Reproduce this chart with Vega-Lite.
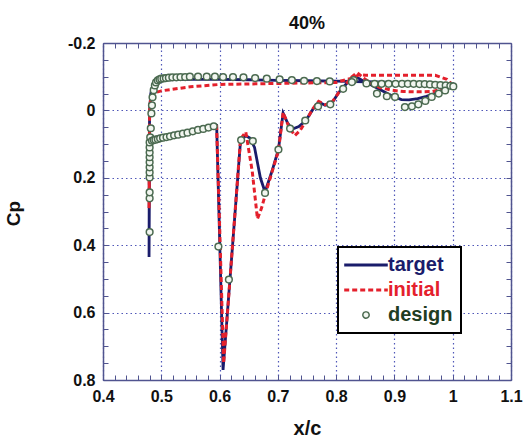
{
  "$schema": "https://vega.github.io/schema/vega-lite/v6.json",
  "width": 408,
  "height": 337,
  "autosize": "none",
  "padding": {"left": 103, "top": 43, "right": 16, "bottom": 65},
  "background": "white",
  "title": {"text": "40%", "font": "Liberation Sans", "fontSize": 18, "fontWeight": "bold", "color": "#111111", "anchor": "middle", "frame": "group", "offset": 15, "dy": 27, "baseline": "alphabetic"},
  "config": {"view": {"stroke": null}},
  "datasets": {
    "target": [
      {"i": 1, "x": 1.000, "cp": -0.073}, {"i": 2, "x": 0.985, "cp": -0.062}, {"i": 3, "x": 0.970, "cp": -0.051},
      {"i": 4, "x": 0.955, "cp": -0.042}, {"i": 5, "x": 0.940, "cp": -0.035}, {"i": 6, "x": 0.925, "cp": -0.031},
      {"i": 7, "x": 0.912, "cp": -0.032}, {"i": 8, "x": 0.900, "cp": -0.040}, {"i": 9, "x": 0.888, "cp": -0.050},
      {"i": 10, "x": 0.875, "cp": -0.062}, {"i": 11, "x": 0.862, "cp": -0.074}, {"i": 12, "x": 0.850, "cp": -0.084},
      {"i": 13, "x": 0.840, "cp": -0.094}, {"i": 14, "x": 0.832, "cp": -0.100}, {"i": 15, "x": 0.822, "cp": -0.088},
      {"i": 16, "x": 0.812, "cp": -0.068}, {"i": 17, "x": 0.804, "cp": -0.052}, {"i": 18, "x": 0.792, "cp": -0.020},
      {"i": 19, "x": 0.781, "cp": -0.015}, {"i": 20, "x": 0.770, "cp": -0.025}, {"i": 21, "x": 0.760, "cp": -0.003},
      {"i": 22, "x": 0.748, "cp": 0.030}, {"i": 23, "x": 0.736, "cp": 0.048}, {"i": 24, "x": 0.724, "cp": 0.056},
      {"i": 25, "x": 0.716, "cp": 0.035}, {"i": 26, "x": 0.709, "cp": 0.008}, {"i": 27, "x": 0.701, "cp": 0.116},
      {"i": 28, "x": 0.690, "cp": 0.180}, {"i": 29, "x": 0.678, "cp": 0.242}, {"i": 30, "x": 0.670, "cp": 0.200},
      {"i": 31, "x": 0.660, "cp": 0.110}, {"i": 32, "x": 0.652, "cp": 0.082}, {"i": 33, "x": 0.645, "cp": 0.075},
      {"i": 34, "x": 0.636, "cp": 0.090}, {"i": 35, "x": 0.606, "cp": 0.770}, {"i": 36, "x": 0.595, "cp": 0.045},
      {"i": 37, "x": 0.580, "cp": 0.050}, {"i": 38, "x": 0.560, "cp": 0.057}, {"i": 39, "x": 0.540, "cp": 0.064},
      {"i": 40, "x": 0.520, "cp": 0.071}, {"i": 41, "x": 0.500, "cp": 0.079}, {"i": 42, "x": 0.490, "cp": 0.084},
      {"i": 43, "x": 0.484, "cp": 0.090}, {"i": 44, "x": 0.480, "cp": 0.110}, {"i": 45, "x": 0.479, "cp": 0.435},
      {"i": 46, "x": 0.4795, "cp": 0.100}, {"i": 47, "x": 0.480, "cp": 0.000}, {"i": 48, "x": 0.482, "cp": -0.050},
      {"i": 49, "x": 0.486, "cp": -0.078}, {"i": 50, "x": 0.492, "cp": -0.088}, {"i": 51, "x": 0.505, "cp": -0.091},
      {"i": 52, "x": 0.550, "cp": -0.092}, {"i": 53, "x": 0.600, "cp": -0.092}, {"i": 54, "x": 0.650, "cp": -0.091},
      {"i": 55, "x": 0.700, "cp": -0.089}, {"i": 56, "x": 0.750, "cp": -0.088}, {"i": 57, "x": 0.800, "cp": -0.087},
      {"i": 58, "x": 0.850, "cp": -0.085}, {"i": 59, "x": 0.900, "cp": -0.083}, {"i": 60, "x": 0.950, "cp": -0.080},
      {"i": 61, "x": 0.980, "cp": -0.077}, {"i": 62, "x": 1.000, "cp": -0.073}
    ],
    "initial": [
      {"i": 1, "x": 1.000, "cp": -0.074}, {"i": 2, "x": 0.985, "cp": -0.064}, {"i": 3, "x": 0.965, "cp": -0.056},
      {"i": 4, "x": 0.940, "cp": -0.055}, {"i": 5, "x": 0.915, "cp": -0.056}, {"i": 6, "x": 0.895, "cp": -0.060},
      {"i": 7, "x": 0.875, "cp": -0.068}, {"i": 8, "x": 0.860, "cp": -0.080}, {"i": 9, "x": 0.848, "cp": -0.095},
      {"i": 10, "x": 0.836, "cp": -0.112}, {"i": 11, "x": 0.826, "cp": -0.098}, {"i": 12, "x": 0.814, "cp": -0.072},
      {"i": 13, "x": 0.804, "cp": -0.052}, {"i": 14, "x": 0.792, "cp": -0.022}, {"i": 15, "x": 0.781, "cp": -0.017},
      {"i": 16, "x": 0.770, "cp": -0.027}, {"i": 17, "x": 0.760, "cp": -0.005}, {"i": 18, "x": 0.748, "cp": 0.032},
      {"i": 19, "x": 0.738, "cp": 0.060}, {"i": 20, "x": 0.729, "cp": 0.075}, {"i": 21, "x": 0.718, "cp": 0.045},
      {"i": 22, "x": 0.709, "cp": 0.006}, {"i": 23, "x": 0.701, "cp": 0.120}, {"i": 24, "x": 0.680, "cp": 0.240},
      {"i": 25, "x": 0.672, "cp": 0.290}, {"i": 26, "x": 0.665, "cp": 0.322}, {"i": 27, "x": 0.656, "cp": 0.180},
      {"i": 28, "x": 0.645, "cp": 0.064}, {"i": 29, "x": 0.636, "cp": 0.085}, {"i": 30, "x": 0.607, "cp": 0.750},
      {"i": 31, "x": 0.595, "cp": 0.048}, {"i": 32, "x": 0.580, "cp": 0.053}, {"i": 33, "x": 0.560, "cp": 0.060},
      {"i": 34, "x": 0.540, "cp": 0.067}, {"i": 35, "x": 0.520, "cp": 0.074}, {"i": 36, "x": 0.500, "cp": 0.082},
      {"i": 37, "x": 0.490, "cp": 0.088}, {"i": 38, "x": 0.484, "cp": 0.094}, {"i": 39, "x": 0.480, "cp": 0.115},
      {"i": 40, "x": 0.479, "cp": 0.290}, {"i": 41, "x": 0.4795, "cp": 0.100}, {"i": 42, "x": 0.480, "cp": 0.000},
      {"i": 43, "x": 0.482, "cp": -0.040}, {"i": 44, "x": 0.488, "cp": -0.052}, {"i": 45, "x": 0.500, "cp": -0.058},
      {"i": 46, "x": 0.550, "cp": -0.070}, {"i": 47, "x": 0.600, "cp": -0.077}, {"i": 48, "x": 0.700, "cp": -0.080},
      {"i": 49, "x": 0.800, "cp": -0.083}, {"i": 50, "x": 0.825, "cp": -0.095}, {"i": 51, "x": 0.840, "cp": -0.106},
      {"i": 52, "x": 0.850, "cp": -0.104}, {"i": 53, "x": 0.970, "cp": -0.104}, {"i": 54, "x": 0.990, "cp": -0.092},
      {"i": 55, "x": 1.000, "cp": -0.076}
    ],
    "design": [
      {"x": 0.480, "cp": 0.361}, {"x": 0.480, "cp": 0.261}, {"x": 0.480, "cp": 0.243}, {"x": 0.480, "cp": 0.199},
      {"x": 0.480, "cp": 0.184}, {"x": 0.480, "cp": 0.169}, {"x": 0.480, "cp": 0.154}, {"x": 0.480, "cp": 0.139},
      {"x": 0.480, "cp": 0.125}, {"x": 0.480, "cp": 0.110}, {"x": 0.480, "cp": 0.095}, {"x": 0.481, "cp": 0.080},
      {"x": 0.482, "cp": 0.053}, {"x": 0.483, "cp": 0.009}, {"x": 0.484, "cp": -0.015}, {"x": 0.485, "cp": -0.039},
      {"x": 0.487, "cp": -0.060}, {"x": 0.489, "cp": -0.074}, {"x": 0.491, "cp": -0.083},
      {"x": 0.494, "cp": -0.089}, {"x": 0.497, "cp": -0.092}, {"x": 0.500, "cp": -0.094}, {"x": 0.504, "cp": -0.095},
      {"x": 0.508, "cp": -0.096}, {"x": 0.513, "cp": -0.097}, {"x": 0.519, "cp": -0.098}, {"x": 0.526, "cp": -0.098},
      {"x": 0.533, "cp": -0.099}, {"x": 0.541, "cp": -0.099}, {"x": 0.549, "cp": -0.100}, {"x": 0.563, "cp": -0.100},
      {"x": 0.578, "cp": -0.100}, {"x": 0.592, "cp": -0.100}, {"x": 0.606, "cp": -0.099}, {"x": 0.623, "cp": -0.099},
      {"x": 0.641, "cp": -0.098}, {"x": 0.661, "cp": -0.096}, {"x": 0.681, "cp": -0.094}, {"x": 0.703, "cp": -0.092},
      {"x": 0.724, "cp": -0.090}, {"x": 0.745, "cp": -0.088}, {"x": 0.767, "cp": -0.087}, {"x": 0.789, "cp": -0.086},
      {"x": 0.830, "cp": -0.090}, {"x": 0.852, "cp": -0.080}, {"x": 0.866, "cp": -0.079}, {"x": 0.878, "cp": -0.079},
      {"x": 0.890, "cp": -0.079}, {"x": 0.902, "cp": -0.079}, {"x": 0.913, "cp": -0.079}, {"x": 0.923, "cp": -0.079},
      {"x": 0.933, "cp": -0.079}, {"x": 0.943, "cp": -0.078}, {"x": 0.952, "cp": -0.078}, {"x": 0.961, "cp": -0.077},
      {"x": 0.970, "cp": -0.076}, {"x": 0.979, "cp": -0.075}, {"x": 0.988, "cp": -0.074}, {"x": 0.996, "cp": -0.073},
      {"x": 1.001, "cp": -0.071},
      {"x": 0.484, "cp": 0.090}, {"x": 0.487, "cp": 0.088}, {"x": 0.490, "cp": 0.087}, {"x": 0.494, "cp": 0.085},
      {"x": 0.498, "cp": 0.083}, {"x": 0.503, "cp": 0.081}, {"x": 0.509, "cp": 0.079}, {"x": 0.515, "cp": 0.077},
      {"x": 0.522, "cp": 0.074}, {"x": 0.529, "cp": 0.072}, {"x": 0.537, "cp": 0.069}, {"x": 0.545, "cp": 0.066},
      {"x": 0.554, "cp": 0.062}, {"x": 0.563, "cp": 0.058}, {"x": 0.572, "cp": 0.055}, {"x": 0.581, "cp": 0.051},
      {"x": 0.590, "cp": 0.047},
      {"x": 0.598, "cp": 0.404}, {"x": 0.616, "cp": 0.502}, {"x": 0.637, "cp": 0.088}, {"x": 0.657, "cp": 0.091},
      {"x": 0.678, "cp": 0.245}, {"x": 0.701, "cp": 0.116}, {"x": 0.721, "cp": 0.054}, {"x": 0.747, "cp": 0.030},
      {"x": 0.769, "cp": -0.012}, {"x": 0.790, "cp": -0.018}, {"x": 0.812, "cp": -0.064}, {"x": 0.827, "cp": -0.084},
      {"x": 0.870, "cp": -0.050}, {"x": 0.887, "cp": -0.042}, {"x": 0.901, "cp": -0.040}, {"x": 0.918, "cp": -0.010},
      {"x": 0.930, "cp": -0.012}, {"x": 0.941, "cp": -0.018}, {"x": 0.953, "cp": -0.028}, {"x": 0.964, "cp": -0.040},
      {"x": 0.976, "cp": -0.050}, {"x": 0.987, "cp": -0.059}
    ]
  },
  "layer": [
    {
      "data": {"name": "target"},
      "mark": {"type": "line", "strokeWidth": 2.8},
      "encoding": {
        "x": {
          "field": "x", "type": "quantitative",
          "scale": {"domain": [0.4, 1.1], "nice": false, "zero": false},
          "axis": {
            "orient": "bottom",
            "values": [0.4, 0.42, 0.44, 0.46, 0.48, 0.5, 0.52, 0.54, 0.56, 0.58, 0.6, 0.62, 0.64, 0.66, 0.68, 0.7, 0.72, 0.74, 0.76, 0.78, 0.8, 0.82, 0.84, 0.86, 0.88, 0.9, 0.92, 0.94, 0.96, 0.98, 1.0, 1.02, 1.04, 1.06, 1.08, 1.1],
            "labelExpr": "abs(datum.value*10 - round(datum.value*10)) < 0.001 ? toString(round(datum.value*10)/10) : ''",
            "labelFont": "Liberation Sans", "labelFontSize": 16, "labelFontWeight": "bold", "labelColor": "#111111",
            "labelPadding": 13, "labelFlush": false, "labelOverlap": false, "labelBound": false,
            "tickSize": -5, "tickColor": "#50548f", "tickWidth": 1,
            "domainColor": "#50548f", "domainWidth": 1.5,
            "grid": true, "gridColor": "#3d45b0", "gridDash": [1.5, 3], "gridWidth": 1.2,
            "gridOpacity": {"condition": {"test": "abs(datum.value*10 - round(datum.value*10)) < 0.001", "value": 0.9}, "value": 0},
            "title": "x/c", "titleFont": "Liberation Sans", "titleFontSize": 20, "titleFontWeight": "bold", "titleColor": "#111111",
            "titleY": 54, "titleBaseline": "alphabetic"
          }
        },
        "y": {
          "field": "cp", "type": "quantitative",
          "scale": {"domain": [-0.2, 0.8], "reverse": true, "nice": false, "zero": false},
          "axis": {
            "orient": "left",
            "values": [-0.2, -0.15, -0.1, -0.05, 0, 0.05, 0.1, 0.15, 0.2, 0.25, 0.3, 0.35, 0.4, 0.45, 0.5, 0.55, 0.6, 0.65, 0.7, 0.75, 0.8],
            "labelExpr": "abs(datum.value*5 - round(datum.value*5)) < 0.001 ? toString(round(datum.value*5)/5) : ''",
            "labelFont": "Liberation Sans", "labelFontSize": 16, "labelFontWeight": "bold", "labelColor": "#111111",
            "labelPadding": 13, "labelFlush": false, "labelOverlap": false, "labelBound": false,
            "tickSize": -5, "tickColor": "#50548f", "tickWidth": 1,
            "domainColor": "#50548f", "domainWidth": 1.5,
            "grid": true, "gridColor": "#3d45b0", "gridDash": [1.5, 3], "gridWidth": 1.2,
            "gridOpacity": {"condition": {"test": "abs(datum.value*5 - round(datum.value*5)) < 0.001", "value": 0.9}, "value": 0},
            "title": "Cp", "titleFont": "Liberation Sans", "titleFontSize": 19, "titleFontWeight": "bold", "titleColor": "#111111",
            "titleX": -84, "titleY": 170, "titleBaseline": "alphabetic", "titleAngle": 270
          }
        },
        "order": {"field": "i", "type": "quantitative"},
        "color": {
          "datum": "target", "type": "nominal",
          "scale": {"domain": ["target", "initial", "design"], "range": ["#1a1c6b", "#e4202c", "#4b6a50"]},
          "legend": {
            "orient": "none", "legendX": 235, "legendY": 204, "title": null, "direction": "vertical",
            "padding": 8, "fillColor": "#ffffff", "strokeColor": "#000000",
            "symbolType": "stroke", "symbolSize": 1900, "symbolStrokeWidth": 3, "symbolOffset": 10,
            "labelFont": "Liberation Sans", "labelFontSize": 20, "labelFontWeight": "bold", "labelOffset": 12,
            "rowPadding": 5,
            "encode": {
              "legend": {"update": {"strokeWidth": {"value": 2}}},
              "symbols": {"update": {
                "shape": {"signal": "datum.value === 'design' ? 'circle' : 'stroke'"},
                "size": {"signal": "datum.value === 'design' ? 40 : 1900"},
                "strokeDash": {"signal": "datum.value === 'initial' ? [5, 3] : [1, 0]"},
                "fill": {"signal": "datum.value === 'design' ? '#f2f6f0' : 'transparent'"},
                "stroke": {"signal": "datum.value === 'target' ? '#1a1c6b' : datum.value === 'initial' ? '#e4202c' : '#4b6a50'"},
                "strokeWidth": {"signal": "datum.value === 'design' ? 1.5 : 3"},
                "opacity": {"value": 1}
              }},
              "labels": {"update": {
                "fill": {"signal": "datum.value === 'target' ? '#1a1c6b' : datum.value === 'initial' ? '#e4202c' : '#1f3d22'"}
              }}
            }
          }
        }
      }
    },
    {
      "data": {"name": "initial"},
      "mark": {"type": "line", "strokeWidth": 3, "strokeDash": [5, 3]},
      "encoding": {
        "x": {
          "field": "x", "type": "quantitative",
          "axis": {
            "orient": "top",
            "values": [0.4, 0.42, 0.44, 0.46, 0.48, 0.5, 0.52, 0.54, 0.56, 0.58, 0.6, 0.62, 0.64, 0.66, 0.68, 0.7, 0.72, 0.74, 0.76, 0.78, 0.8, 0.82, 0.84, 0.86, 0.88, 0.9, 0.92, 0.94, 0.96, 0.98, 1.0, 1.02, 1.04, 1.06, 1.08, 1.1],
            "labels": false, "grid": false, "title": null,
            "tickSize": -5, "tickColor": "#50548f", "tickWidth": 1,
            "domainColor": "#50548f", "domainWidth": 1.5
          }
        },
        "y": {
          "field": "cp", "type": "quantitative",
          "axis": {
            "orient": "right",
            "values": [-0.2, -0.15, -0.1, -0.05, 0, 0.05, 0.1, 0.15, 0.2, 0.25, 0.3, 0.35, 0.4, 0.45, 0.5, 0.55, 0.6, 0.65, 0.7, 0.75, 0.8],
            "labels": false, "grid": false, "title": null,
            "tickSize": -5, "tickColor": "#50548f", "tickWidth": 1,
            "domainColor": "#50548f", "domainWidth": 1.5
          }
        },
        "order": {"field": "i", "type": "quantitative"},
        "color": {"datum": "initial", "type": "nominal"}
      }
    },
    {
      "data": {"name": "design"},
      "mark": {"type": "point", "shape": "circle", "filled": false, "fill": "#f2f6f0", "size": 45, "strokeWidth": 1.5, "opacity": 1},
      "encoding": {
        "x": {"field": "x", "type": "quantitative", "axis": null},
        "y": {"field": "cp", "type": "quantitative", "axis": null},
        "color": {"datum": "design", "type": "nominal"}
      }
    }
  ],
  "resolve": {"axis": {"x": "independent", "y": "independent"}}
}
